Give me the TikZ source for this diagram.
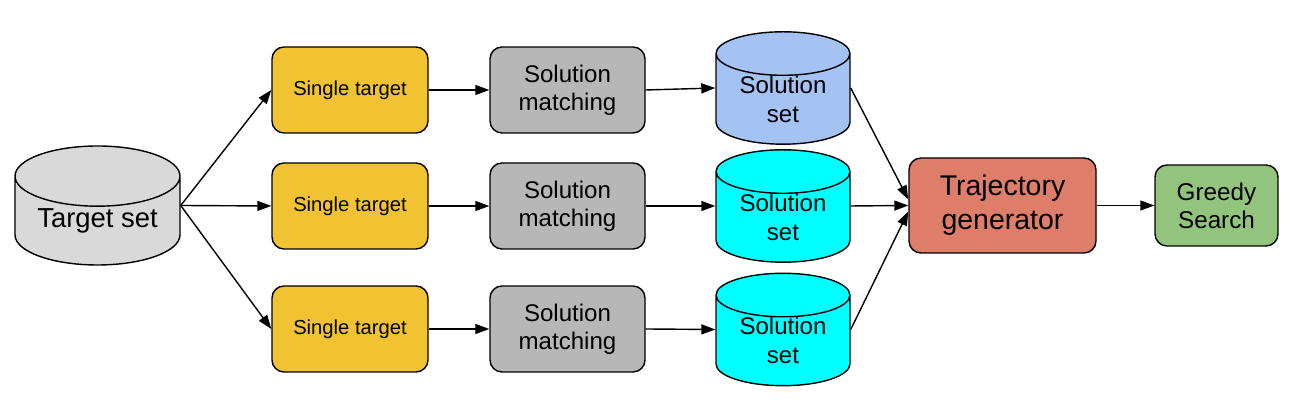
\documentclass[tikz,border=0pt]{standalone}
\usepackage{fontspec}
\setmainfont{Liberation Sans}
\usetikzlibrary{shapes.geometric,arrows.meta}
\definecolor{setgray}{HTML}{D9D9D9}
\definecolor{targetgold}{HTML}{F1C232}
\definecolor{matchgray}{HTML}{B7B7B7}
\definecolor{solblue}{HTML}{A4C2F4}
\definecolor{solcyan}{HTML}{00FFFF}
\definecolor{trajred}{HTML}{DD7E6B}
\definecolor{greedygreen}{HTML}{93C47D}

\begin{document}
\begin{tikzpicture}[line width=0.8pt, >={Triangle[length=0.28cm,width=0.2cm]},
    box/.style={draw, rounded corners=0.24cm, align=center, inner sep=0pt},
    drum/.style={draw, cylinder, shape border rotate=90, aspect=0.5, align=center, inner sep=0pt, anchor=shape center},
    single/.style={box, fill=targetgold, minimum width=3.12cm, minimum height=1.72cm, font=\fontsize{11.5}{13.5}\selectfont},
    match/.style={box, fill=matchgray, minimum width=3.1cm, minimum height=1.72cm, font=\fontsize{13.7}{15.9}\selectfont},
    solset/.style={drum, minimum width=2.68cm, minimum height=1.8cm, text depth=0pt, font=\fontsize{13.7}{16.5}\selectfont}]
    \useasboundingbox (0,0) rectangle (26.06,8.24);

    % Target set
    \node[drum, fill=setgray, minimum width=3.3cm, minimum height=2.38cm, font=\fontsize{15.6}{18}\selectfont] (tset) at (1.95,4.13) {Target set};

    % Single targets
    \node[single] (st1) at (7,6.44) {Single target};
    \node[single] (st2) at (7,4.12) {Single target};
    \node[single] (st3) at (7,1.66) {Single target};

    % Solution matching
    \node[match] (sm1) at (11.35,6.44) {Solution\\matching};
    \node[match] (sm2) at (11.35,4.12) {Solution\\matching};
    \node[match] (sm3) at (11.35,1.66) {Solution\\matching};

    % Solution sets
    \node[solset, fill=solblue] (ss1) at (15.66,6.48) {Solution\\set};
    \node[solset, fill=solcyan] (ss2) at (15.66,4.12) {Solution\\set};
    \node[solset, fill=solcyan] (ss3) at (15.66,1.65) {Solution\\set};

    % Trajectory generator and search
    \node[box, fill=trajred, minimum width=3.74cm, minimum height=1.9cm, font=\fontsize{16.2}{19.3}\selectfont] (traj) at (20.05,4.13) {Trajectory\\generator};
    \node[box, fill=greedygreen, minimum width=2.46cm, minimum height=1.62cm, font=\fontsize{13.8}{16}\selectfont] (greedy) at (24.33,4.13) {Greedy\\Search};

    % Arrows
    \draw[->] (tset.shape center -| tset.east) -- (st1.west);
    \draw[->] (tset.shape center -| tset.east) -- (st2.west);
    \draw[->] (tset.shape center -| tset.east) -- (st3.west);
    \draw[->] (st1) -- (sm1);
    \draw[->] (st2) -- (sm2);
    \draw[->] (st3) -- (sm3);
    \draw[->] (sm1.east) -- (ss1.shape center -| ss1.west);
    \draw[->] (sm2.east) -- (ss2.shape center -| ss2.west);
    \draw[->] (sm3.east) -- (ss3.shape center -| ss3.west);
    \draw[->] (ss1.shape center -| ss1.east) -- ([yshift=0.12cm]traj.west);
    \draw[->] (ss2.shape center -| ss2.east) -- (traj.west);
    \draw[->] (ss3.shape center -| ss3.east) -- ([yshift=-0.12cm]traj.west);
    \draw[->] (traj) -- (greedy);
\end{tikzpicture}
\end{document}
